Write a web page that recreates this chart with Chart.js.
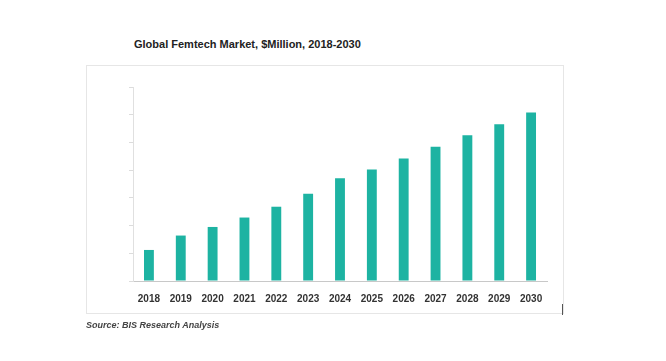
<!DOCTYPE html>
<html><head><meta charset="utf-8">
<script src="https://cdn.jsdelivr.net/npm/chart.js@4"></script>
<style>
html,body{margin:0;padding:0;background:#fff;width:666px;height:361px;overflow:hidden;}
#title{position:absolute;left:134px;top:38px;font:bold 11px "Liberation Sans",Arial,sans-serif;color:#222;white-space:nowrap;}
#box{position:absolute;left:86px;top:65px;width:476px;height:247px;border:1px solid #e6e6e6;}
#src{position:absolute;left:86px;top:320px;font:italic bold 9px "Liberation Sans",Arial,sans-serif;color:#444;white-space:nowrap;}
#mark{position:absolute;left:562px;top:304px;width:1px;height:11px;background:#555;}
canvas{position:absolute;left:0;top:0;}
</style></head>
<body>
<div id="title">Global Femtech Market, $Million, 2018-2030</div>
<div id="box"></div>
<div id="mark"></div>
<canvas id="c" width="666" height="361"></canvas>
<div id="src">Source: BIS Research Analysis</div>
<script>
const years = ['2018','2019','2020','2021','2022','2023','2024','2025','2026','2027','2028','2029','2030'];
const marketValues = [1.12,1.64,1.95,2.29,2.68,3.15,3.71,4.02,4.42,4.84,5.26,5.66,6.08];
const yTicks = [0,1,2,3,4,5,6,7];

new Chart(document.getElementById('c'), {
  type: 'bar',
  data: {
    labels: years,
    datasets: [{ data: marketValues, backgroundColor: '#1db3a2', barPercentage: 0.62, categoryPercentage: 0.5 }]
  },
  options: {
    responsive: false,
    animation: false,
    layout: { padding: { left: 0, top: 87, right: 119, bottom: 50 } },
    plugins: { legend: { display: false }, tooltip: { enabled: false } },
    scales: {
      x: {
        grid: { display: false },
        border: { display: true, color: '#c8c8c8', width: 1 },
        ticks: { color: '#333', font: { family: 'Liberation Sans', size: 10, weight: 'bold' }, padding: 4, maxRotation: 0 },
        afterFit: s => { s.height = 30; }
      },
      y: {
        min: yTicks[0], max: yTicks[yTicks.length - 1],
        afterBuildTicks: s => { s.ticks = yTicks.map(v => ({ value: v })); },
        grid: { display: true, drawOnChartArea: false, drawTicks: true, tickLength: 4, color: '#dcdcdc' },
        border: { display: true, color: '#e0e0e0', width: 1 },
        ticks: { display: false },
        afterFit: s => { s.width = 133; }
      }
    }
  }
});
</script>
</body></html>
